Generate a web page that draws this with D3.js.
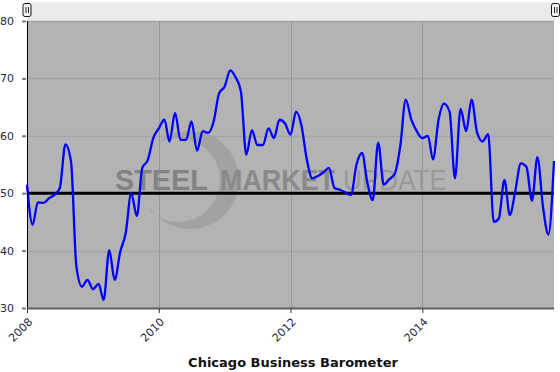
<!DOCTYPE html>
<html>
<head>
<meta charset="utf-8">
<script src="https://cdn.jsdelivr.net/npm/d3@7"></script>
<style>
  body { margin: 0; background: #fff; }
  text { font-family: "DejaVu Sans", Verdana, sans-serif; }
</style>
</head>
<body>
<div id="chart"></div>
<script>
// Chicago Business Barometer, monthly values, Jan 2008 .. Jan 2016
var v2008 = [51.5, 44.5, 48.4, 48.3, 49.1, 49.7, 50.9, 58.5, 55.5, 37.2, 33.7, 34.9];
var v2009 = [33.3, 34.2, 31.4, 40.1, 34.9, 39.8, 43.0, 50.0, 46.0, 54.4, 55.8, 59.6];
var v2010 = [61.3, 62.8, 59.0, 64.0, 59.3, 59.3, 62.5, 57.4, 60.8, 60.5, 62.5, 67.4];
var v2011 = [68.6, 71.4, 70.3, 67.7, 56.7, 61.0, 58.4, 58.4, 61.3, 59.6, 62.8, 62.2];
var v2012 = [60.2, 64.2, 61.9, 55.8, 52.6, 53.0, 53.6, 54.4, 50.9, 50.6, 50.1, 49.7];
var v2013 = [55.0, 57.0, 52.0, 48.8, 58.8, 51.5, 52.4, 53.4, 58.3, 66.3, 62.8, 60.8];
var v2014 = [59.6, 60.0, 55.9, 62.8, 65.6, 64.2, 52.6, 64.7, 60.8, 66.3, 60.5, 59.0];
var v2015 = [60.3, 45.0, 45.6, 52.3, 46.2, 50.5, 55.2, 54.6, 48.7, 56.3, 47.6, 42.8];
var v2016 = [55.6];

var yTicks = [30, 40, 50, 60, 70, 80];
var xTickYears = [2008, 2010, 2012, 2014];
var baseline = 50;
var chartTitle = "Chicago Business Barometer";

var values = [].concat(v2008, v2009, v2010, v2011, v2012, v2013, v2014, v2015, v2016);
var data = values.map(function(v, i) {
  return {date: new Date(2008, i, 1), value: v};
});

var width = 560, height = 372
  , plotLeft = 27, plotRight = 554, plotTop = 21, plotBottom = 308;

var xScale = d3.scaleTime()
    .domain([new Date(2008, 0, 1), new Date(2016, 0, 1)])
    .range([plotLeft, plotRight]);

var yScale = d3.scaleLinear()
    .domain([30, 80])
    .range([plotBottom, plotTop]);

var svg = d3.select("#chart").append("svg")
    .attr("width", width)
    .attr("height", height);

// navigator strip with handles
svg.append("rect")
    .attr("x", plotLeft).attr("y", 2)
    .attr("width", 529).attr("height", plotTop - 2)
    .attr("fill", "#ebebeb");

[plotLeft, plotRight + 1.5].forEach(function(hx) {
  var h = svg.append("g").attr("transform", "translate(" + hx + ",0)");
  h.append("rect")
      .attr("x", -4).attr("y", 3.5)
      .attr("width", 8).attr("height", 13)
      .attr("rx", 2)
      .attr("fill", "#f4f4f4")
      .attr("stroke", "#111")
      .attr("stroke-width", 1);
  h.append("path")
      .attr("d", "M-1,7V13M1.5,7V13")
      .attr("stroke", "#222")
      .attr("stroke-width", 1);
});

// plot background
svg.append("rect")
    .attr("x", plotLeft).attr("y", plotTop)
    .attr("width", plotRight - plotLeft).attr("height", plotBottom - plotTop)
    .attr("fill", "#b3b3b3");

// grid
svg.append("g").selectAll("line")
    .data(yTicks.filter(function(t) { return t != 30; }))
    .enter().append("line")
    .attr("x1", plotLeft).attr("x2", plotRight)
    .attr("y1", function(d) { return Math.round(yScale(d)) + 0.5; })
    .attr("y2", function(d) { return Math.round(yScale(d)) + 0.5; })
    .attr("stroke", "#a5a5a5")
    .attr("stroke-width", 1.5);

svg.append("g").selectAll("line")
    .data(xTickYears.slice(1))
    .enter().append("line")
    .attr("x1", function(d) { return Math.round(xScale(new Date(d, 0, 1))) + 0.5; })
    .attr("x2", function(d) { return Math.round(xScale(new Date(d, 0, 1))) + 0.5; })
    .attr("y1", plotTop).attr("y2", plotBottom)
    .attr("stroke", "#969696")
    .attr("stroke-width", 1);

// watermark
svg.append("clipPath").attr("id", "wmclip")
  .append("rect").attr("x", 150).attr("y", 120).attr("width", 120).attr("height", 120);

var wm = svg.append("g");
wm.append("path")
    .attr("fill-rule", "evenodd")
    .attr("fill", "#a2a2a2")
    .attr("d", function() {
      var p = d3.path();
      p.moveTo(190 + 49, 180); p.arc(190, 180, 49, 0, 2 * Math.PI);
      p.moveTo(178 + 42, 180); p.arc(178, 180, 42, 0, 2 * Math.PI);
      return p.toString();
    })
    .attr("clip-path", "url(#wmclip)");

wm.append("text")
    .attr("x", 115).attr("y", 190)
    .attr("textLength", 93).attr("lengthAdjust", "spacingAndGlyphs")
    .style("font-family", "'Liberation Sans', Arial, sans-serif")
    .style("font-size", "29px").style("font-weight", "bold")
    .attr("fill", "#828282")
    .text("STEEL");
wm.append("text")
    .attr("x", 220).attr("y", 190)
    .attr("textLength", 115).attr("lengthAdjust", "spacingAndGlyphs")
    .style("font-family", "'Liberation Sans', Arial, sans-serif")
    .style("font-size", "29px").style("font-weight", "bold")
    .attr("fill", "#898989")
    .text("MARKET");
wm.append("text")
    .attr("x", 343).attr("y", 190)
    .attr("textLength", 104).attr("lengthAdjust", "spacingAndGlyphs")
    .style("font-family", "'Liberation Sans', Arial, sans-serif")
    .style("font-size", "29px")
    .attr("fill", "#999999")
    .text("UPDATE");

// baseline at 50
svg.append("line")
    .attr("x1", plotLeft).attr("x2", plotRight)
    .attr("y1", yScale(baseline)).attr("y2", yScale(baseline))
    .attr("stroke", "#000")
    .attr("stroke-width", 3);

// series
var line = d3.line()
    .x(function(d) { return xScale(d.date); })
    .y(function(d) { return yScale(d.value); })
    .curve(d3.curveMonotoneX);

svg.append("path")
    .datum(data)
    .attr("fill", "none")
    .attr("stroke", "#0000ff")
    .attr("stroke-width", 2.3)
    .attr("stroke-linejoin", "round")
    .attr("d", line);

// y axis
var yAxis = svg.append("g")
    .attr("transform", "translate(" + (plotLeft - 5) + ",0)")
    .call(d3.axisLeft(yScale).tickValues(yTicks).tickSize(0).tickPadding(8).tickFormat(d3.format("d")));
yAxis.select(".domain").remove();
yAxis.selectAll("text").attr("fill", "#1f2a44").attr("x", -8).style("font-size", "11px");
yAxis.selectAll(".tick").append("line")
    .attr("x1", 0).attr("x2", 4)
    .attr("stroke", "#7a7a7a").attr("stroke-width", 2);

svg.append("line")
    .attr("x1", plotLeft + 0.5).attr("x2", plotLeft + 0.5)
    .attr("y1", plotTop).attr("y2", plotBottom)
    .attr("stroke", "#000");

// x axis
svg.append("line")
    .attr("x1", plotLeft).attr("x2", plotRight)
    .attr("y1", plotBottom + 0.5).attr("y2", plotBottom + 0.5)
    .attr("stroke", "#5e5e5e")
    .attr("stroke-width", 2);

var xAxis = svg.append("g")
    .attr("transform", "translate(0," + (plotBottom + 1) + ")")
    .call(d3.axisBottom(xScale)
      .tickValues(xTickYears.map(function(y) { return new Date(y, 0, 1); }))
      .tickSize(4).tickFormat(d3.timeFormat("%Y")));
xAxis.select(".domain").remove();
xAxis.selectAll("line").attr("stroke", "#333");
xAxis.selectAll("text")
    .style("font-size", "11px")
    .attr("fill", "#1f2a44")
    .attr("text-anchor", "end")
    .attr("dy", "0.35em")
    .attr("transform", "translate(-2,6) rotate(-45)");

// title
svg.append("text")
    .attr("x", 293).attr("y", 367)
    .attr("text-anchor", "middle")
    .style("font-size", "13px").style("font-weight", "bold")
    .attr("fill", "#111")
    .text(chartTitle);
</script>
</body>
</html>
